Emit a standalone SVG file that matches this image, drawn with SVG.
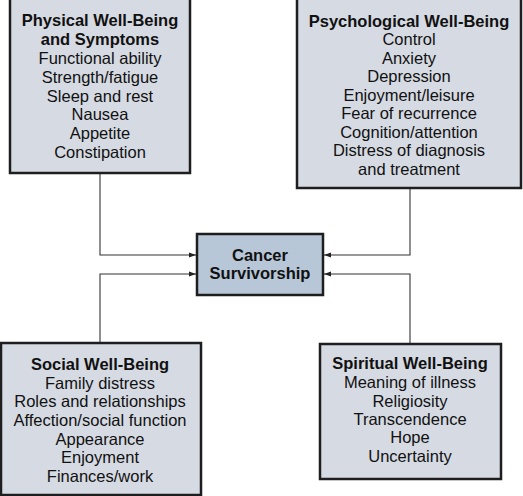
<svg xmlns="http://www.w3.org/2000/svg" width="523" height="496" viewBox="0 0 523 496">
<style>
.box{fill:#d6dae3;stroke:#1e1e1e;stroke-width:2.5}
.core{fill:#b7c7d8;stroke:#1e1e1e;stroke-width:2.5}
text{font-family:"Liberation Sans",Arial,sans-serif;font-size:16.5px;fill:#111;text-anchor:middle}
.t{font-weight:bold}
.c{fill:none;stroke:#333;stroke-width:1.1}
</style>
<defs>
<marker id="ah" viewBox="0 0 10 10" refX="10" refY="5" markerWidth="7" markerHeight="7" orient="auto" markerUnits="userSpaceOnUse">
<path d="M0,1.5 L10,5 L0,8.5 z" fill="#222"/>
</marker>
</defs>
<g id="connectors">
<path class="c" d="M100,173 V255 H196" marker-end="url(#ah)"/>
<path class="c" d="M100,343 V274 H196" marker-end="url(#ah)"/>
<path class="c" d="M410,188 V255 H324" marker-end="url(#ah)"/>
<path class="c" d="M410,344 V274 H324" marker-end="url(#ah)"/>
</g>
<g id="physical">
<rect class="box" x="10" y="-2" width="180" height="175"/>
<text class="t" x="100" y="26">Physical Well-Being</text>
<text class="t" x="100" y="45">and Symptoms</text>
<text x="100" y="64">Functional ability</text>
<text x="100" y="83">Strength/fatigue</text>
<text x="100" y="102">Sleep and rest</text>
<text x="100" y="120">Nausea</text>
<text x="100" y="139">Appetite</text>
<text x="100" y="158">Constipation</text>
</g>
<g id="psychological">
<rect class="box" x="297" y="-2" width="224" height="190"/>
<text class="t" x="409" y="27">Psychological Well-Being</text>
<text x="409" y="45">Control</text>
<text x="409" y="64">Anxiety</text>
<text x="409" y="82">Depression</text>
<text x="409" y="101">Enjoyment/leisure</text>
<text x="409" y="119">Fear of recurrence</text>
<text x="409" y="138">Cognition/attention</text>
<text x="409" y="156">Distress of diagnosis</text>
<text x="409" y="175">and treatment</text>
</g>
<g id="center">
<rect class="core" x="197" y="234" width="126" height="61"/>
<text class="t" x="260" y="261">Cancer</text>
<text class="t" x="260" y="279">Survivorship</text>
</g>
<g id="social">
<rect class="box" x="1" y="343" width="200" height="152"/>
<text class="t" x="100" y="370">Social Well-Being</text>
<text x="100" y="389">Family distress</text>
<text x="100" y="407">Roles and relationships</text>
<text x="100" y="426">Affection/social function</text>
<text x="100" y="445">Appearance</text>
<text x="100" y="463">Enjoyment</text>
<text x="100" y="482">Finances/work</text>
</g>
<g id="spiritual">
<rect class="box" x="320" y="344" width="181" height="135"/>
<text class="t" x="410" y="369">Spiritual Well-Being</text>
<text x="410" y="388">Meaning of illness</text>
<text x="410" y="407">Religiosity</text>
<text x="410" y="425">Transcendence</text>
<text x="410" y="443">Hope</text>
<text x="410" y="462">Uncertainty</text>
</g>
</svg>
